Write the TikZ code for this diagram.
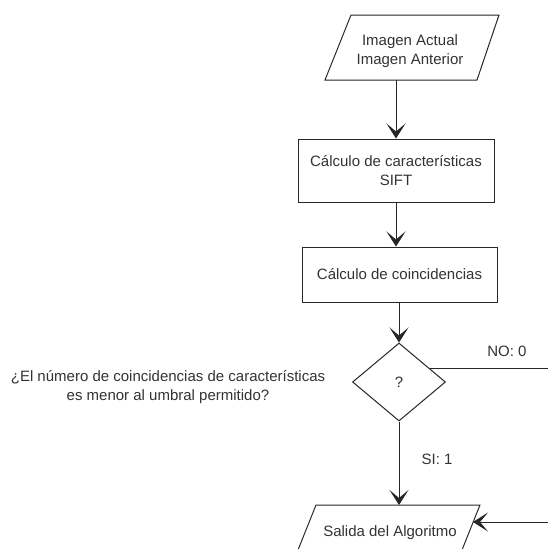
\documentclass[tikz,border=0pt]{standalone}
\usepackage{fontspec}
\setmainfont{Liberation Sans}
\usetikzlibrary{shapes.geometric,arrows.meta}
\begin{document}
\begin{tikzpicture}[x=1pt,y=-1pt,
  line/.style={draw=black!85, line width=1pt},
  arr/.style={line, -{Stealth[length=15pt,width=19pt,inset=8pt]}},
  txt/.style={font=\fontsize{15}{18.5}\selectfont, text=black!80, align=center, inner sep=0pt},
  shp/.style={line, fill=white},
  rectbox/.style={shp, txt, rectangle},
  decbox/.style={shp, txt, diamond}]
\useasboundingbox (0,0) rectangle (548,549);
\begin{scope}
\clip (0,0) rectangle (548,549);
% input parallelogram
\draw[shp] (351,15) -- (499,15) -- (477,80) -- (325,80) -- cycle;
\node[txt] (inp) at (410,51) {Imagen Actual\\Imagen Anterior};
\coordinate (inpB) at (396,80);
% boxes
\node[rectbox, minimum width=196pt, minimum height=63pt] (sift) at (396,170.5) {Cálculo de características\\SIFT};
\node[rectbox, minimum width=195pt, minimum height=55pt] (coin) at (399.5,274.5) {Cálculo de coincidencias};
% decision
\node[decbox, minimum width=93pt, minimum height=78pt] (dec) at (399,382) {?};
\node[txt] (q) at (168,387) {¿El número de coincidencias de características\\es menor al umbral permitido?};
% output parallelogram
\draw[shp] (316,505) -- (480,505) -- (454,570) -- (290,570) -- cycle;
\node[txt] (out) at (390,533) {Salida del Algoritmo};
\coordinate (outT) at (399,505);
\coordinate (outR) at (473,522);
\coordinate (rightIn) at (548,522);
\coordinate (rightOut) at (548,369);
% connectors
\draw[arr] (inpB) -- (inpB |- sift.north);
\draw[arr] (sift.south) -- (sift.south |- coin.north);
\draw[arr] (coin.south -| dec.north) -- (dec.north);
\draw[line] (dec.23) -- (dec.23 -| rightOut);
\node[txt] (no) at (507,351) {NO: 0};
\draw[arr] (dec.south) -- (outT);
\node[txt] (si) at (437,459) {SI: 1};
\draw[arr] (rightIn) -- (outR);
\end{scope}
\end{tikzpicture}
\end{document}
